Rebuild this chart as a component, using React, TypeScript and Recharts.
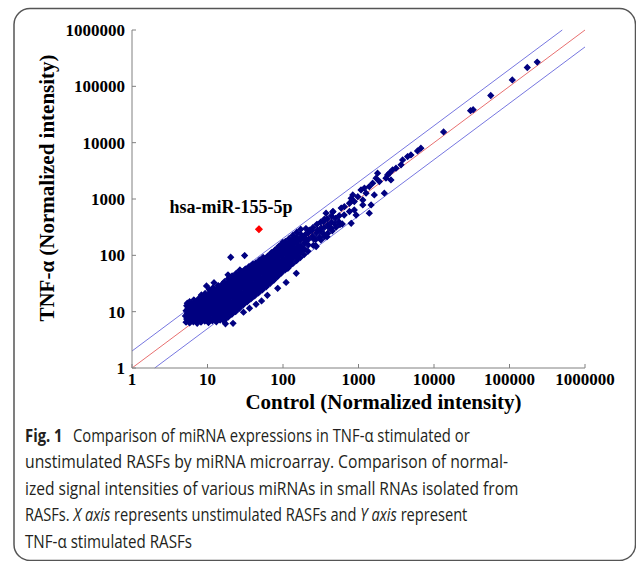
import React from 'react';
import { ScatterChart, Scatter, XAxis, YAxis, ReferenceLine, Label } from 'recharts';

// log axes, both from 1 to 1000000
const axisTicks = [1, 10, 100, 1000, 10000, 100000, 1000000];

// Control (x) vs TNF-a (y), normalized intensities
const lowCluster: [number, number][] = [
  [5.2, 6.5], [5.3, 7.4], [5.1, 8.4], [5.4, 9.3], [5.2, 10.4], [5.5, 11.6], [5.3, 12.8], [5.4, 14.1],
  [5.8, 6.3], [5.9, 7.1], [5.7, 8.0], [6.0, 8.9], [5.8, 9.9], [6.1, 11.0], [5.9, 12.2], [6.0, 13.6], [5.8, 15.0],
  [6.5, 6.6], [6.7, 7.5], [6.4, 8.4], [6.8, 9.4], [6.6, 10.5], [6.9, 11.7], [6.5, 13.0], [6.8, 14.5], [6.6, 16.2],
  [7.3, 6.2], [7.5, 7.0], [7.2, 7.9], [7.6, 8.8], [7.4, 9.8], [7.7, 11.0], [7.3, 12.3], [7.6, 13.7], [7.4, 15.3], [7.7, 17.2],
  [8.2, 6.5], [8.5, 7.3], [8.1, 8.2], [8.6, 9.2], [8.3, 10.3], [8.7, 11.5], [8.2, 12.9], [8.6, 14.4], [8.4, 16.1], [8.7, 18.0], [8.3, 19.8],
  [9.2, 6.8], [9.6, 7.6], [9.1, 8.6], [9.7, 9.6], [9.3, 10.8], [9.8, 12.1], [9.2, 13.5], [9.6, 15.1], [9.4, 16.9], [9.8, 18.9], [9.3, 21.0],
  [10.3, 6.4], [10.8, 7.2], [10.2, 8.1], [10.9, 9.1], [10.5, 10.2], [11.0, 11.4], [10.4, 12.8], [10.8, 14.3], [10.6, 16.0], [11.0, 17.9], [10.4, 20.0], [10.9, 22.4], [10.6, 24.6],
  [11.6, 6.9], [12.2, 7.8], [11.5, 8.7], [12.3, 9.8], [11.8, 11.0], [12.4, 12.3], [11.7, 13.8], [12.1, 15.5], [11.9, 17.3], [12.4, 19.4], [11.6, 21.7], [12.2, 24.3], [11.8, 26.5],
  [13.1, 6.6], [13.8, 7.5], [13.0, 8.5], [13.9, 9.5], [13.3, 10.7], [14.0, 12.0], [13.2, 13.4], [13.7, 15.0], [13.4, 16.8], [14.0, 18.8], [13.1, 21.1], [13.8, 23.6], [13.5, 26.4], [13.9, 29.0],
  [14.7, 7.1], [15.5, 8.0], [14.6, 9.0], [15.6, 10.1], [15.0, 11.3], [15.8, 12.7], [14.8, 14.2], [15.4, 15.9], [15.1, 17.8], [15.7, 19.9], [14.9, 22.3], [15.5, 25.0], [15.2, 28.0], [15.8, 31.0],
  [16.5, 6.8], [17.4, 7.7], [16.4, 8.7], [17.6, 9.8], [16.9, 11.0], [17.8, 12.3], [16.6, 13.8], [17.3, 15.5], [17.0, 17.4], [17.7, 19.5], [16.7, 21.8], [17.4, 24.4], [17.1, 27.3], [17.8, 30.6], [16.8, 34.0],
  [18.6, 7.9], [19.6, 8.9], [18.5, 10.0], [19.8, 11.2], [19.0, 12.6], [20.0, 14.1], [18.7, 15.8], [19.5, 17.7], [19.1, 19.8], [19.9, 22.2], [18.8, 24.9], [19.6, 27.9], [19.2, 31.2], [19.9, 35.0], [18.9, 38.5],
];

const midCluster: [number, number][] = [
  [21.0, 9.0], [22.2, 10.1], [21.2, 11.3], [22.4, 12.7], [21.6, 14.2], [22.5, 15.9], [21.1, 17.8], [22.0, 19.9], [21.5, 22.3], [22.3, 25.0], [21.3, 28.0], [22.1, 31.4], [21.7, 35.2], [22.4, 39.4], [21.2, 43.0],
  [23.6, 10.0], [24.9, 11.3], [23.8, 12.7], [25.1, 14.2], [24.2, 15.9], [25.2, 17.8], [23.7, 19.9], [24.6, 22.3], [24.1, 25.0], [25.0, 28.0], [23.9, 31.4], [24.8, 35.2], [24.3, 39.4], [25.2, 44.0], [24.0, 48.0],
  [26.5, 11.5], [27.9, 12.9], [26.7, 14.5], [28.2, 16.2], [27.1, 18.2], [28.3, 20.4], [26.6, 22.8], [27.6, 25.6], [27.0, 28.6], [28.1, 32.1], [26.8, 35.9], [27.8, 40.2], [27.3, 45.0], [28.2, 50.4], [26.9, 55.0],
  [29.8, 13.2], [31.3, 14.8], [30.0, 16.6], [31.6, 18.6], [30.4, 20.8], [31.8, 23.3], [29.9, 26.1], [31.0, 29.2], [30.3, 32.7], [31.5, 36.6], [30.1, 41.0], [31.2, 45.9], [30.6, 51.4], [31.7, 57.0],
  [33.4, 14.9], [35.1, 16.7], [33.6, 18.7], [35.4, 20.9], [34.1, 23.4], [35.6, 26.2], [33.5, 29.3], [34.8, 32.8], [34.0, 36.7], [35.3, 41.1], [33.8, 46.0], [35.0, 51.5], [34.3, 57.7], [35.5, 63.0],
  [37.5, 16.8], [39.4, 18.8], [37.7, 21.0], [39.7, 23.5], [38.3, 26.3], [40.0, 29.5], [37.6, 33.0], [39.1, 37.0], [38.2, 41.4], [39.6, 46.4], [37.9, 52.0], [39.3, 58.2], [38.5, 65.0], [39.9, 70.0],
  [42.1, 19.0], [44.3, 21.3], [42.4, 23.8], [44.6, 26.7], [43.0, 29.9], [45.0, 33.5], [42.3, 37.5], [44.0, 42.0], [42.9, 47.0], [44.5, 52.7], [42.6, 59.0], [44.2, 66.0], [43.4, 73.0],
  [47.3, 21.5], [49.7, 24.1], [47.6, 27.0], [50.1, 30.2], [48.3, 33.8], [50.5, 37.9], [47.5, 42.4], [49.4, 47.5], [48.2, 53.2], [50.0, 59.6], [47.8, 66.8], [49.6, 74.8], [48.6, 82.0],
  [53.2, 24.3], [55.9, 27.2], [53.5, 30.5], [56.3, 34.2], [54.3, 38.3], [56.7, 42.9], [53.4, 48.0], [55.5, 53.8], [54.1, 60.3], [56.2, 67.5], [53.7, 75.6], [55.7, 84.7], [54.6, 92.0],
];

const band: [number, number][] = [
  [59.8, 27.5], [62.8, 31.0], [60.2, 35.0], [63.3, 39.3], [61.1, 44.0], [63.7, 49.5], [60.0, 55.5], [62.4, 62.3], [60.8, 70.0], [63.1, 78.5], [60.4, 88.0], [62.7, 97.0],
  [67.2, 31.5], [70.5, 35.6], [67.6, 40.0], [71.0, 45.0], [68.6, 50.5], [71.5, 56.8], [67.4, 63.8], [70.1, 71.7], [68.3, 80.5], [70.9, 90.4], [67.8, 101], [70.4, 112],
  [75.4, 36.0], [79.2, 40.6], [75.9, 45.7], [79.8, 51.4], [77.0, 57.8], [80.3, 65.0], [75.7, 73.0], [78.7, 82.0], [76.7, 92.2], [79.6, 103.6], [76.1, 116], [79.0, 126],
  [84.7, 42.0], [88.9, 47.3], [85.2, 53.2], [89.6, 59.8], [86.5, 67.3], [90.2, 75.7], [85.0, 85.1], [88.4, 95.7], [86.1, 107.6], [89.4, 121], [85.5, 134], [88.7, 146],
  [95.1, 48.5], [99.8, 54.6], [95.7, 61.4], [100.6, 69.1], [97.1, 77.7], [101.2, 87.4], [95.4, 98.3], [99.3, 110.6], [96.7, 124.4], [100.3, 140], [96.0, 156], [99.6, 170],
  [106.8, 55.0], [112.1, 62.0], [107.5, 69.7], [113.0, 78.4], [109.0, 88.2], [113.6, 99.2], [107.2, 111.6], [111.5, 125.5], [108.6, 141.2], [112.6, 158.8], [107.8, 176],
  [119.9, 62.5], [125.8, 70.3], [120.7, 79.1], [126.9, 89.0], [122.4, 100.1], [127.6, 112.6], [120.4, 126.7], [125.2, 142.5], [121.9, 160.3], [126.4, 180.3], [121.1, 200],
  [134.6, 71.0], [135.5, 89.9], [142.4, 101.1], [137.4, 113.7], [143.2, 127.9], [135.2, 143.9], [140.6, 161.9], [136.9, 182.1], [142.0, 204.9], [136.0, 228],
  [151.1, 80.5], [152.1, 102], [159.9, 114.7], [154.3, 129], [160.8, 145.1], [151.8, 163.3], [157.8, 183.7], [153.7, 206.6], [152.7, 258],
  [169.6, 91.3], [170.8, 115.5], [179.5, 130], [173.2, 146.2], [170.4, 185], [177.2, 208.1], [172.6, 234.2], [171.5, 290],
  [190.4, 103.5], [191.7, 131], [194.4, 165.7], [202.6, 186.4], [191.3, 209.8], [198.9, 236], [200.9, 298.7],
  [214, 118], [216, 152], [219, 194], [215, 247], [223, 279],
  [252, 150], [256, 192], [246, 217], [241, 276], [250, 312],
  [270, 150], [273, 192], [277, 246], [285, 278], [281, 355],
  [318, 188], [307, 212], [311, 271], [320, 306], [316, 390],
  [357, 214], [345, 242], [349, 308], [343, 393], [354, 440],
  [383, 214], [406, 308], [392, 348], [385, 444],
  [450, 272], [434, 307], [440, 392], [436, 500],
  [506, 316], [488, 357], [494, 454],
  [568, 350], [548, 396], [556, 505],
  [610, 360], [646, 520],
  [372, 560], [455, 590],
];

const upperTail: [number, number][] = [
  [460, 600], [590, 690], [650, 730], [760, 600], [880, 640], [760, 840], [800, 1030], [880, 900],
  [930, 520], [800, 370], [840, 1180], [980, 1100], [1140, 960], [1140, 785], [1080, 1450], [1200, 1560],
  [1260, 1270], [1390, 1660], [1390, 560], [1470, 785], [1540, 1910], [1620, 1180], [1710, 2340], [1790, 2870],
  [1890, 2040], [2200, 1270], [2310, 2340], [2430, 2680], [2560, 2870], [2690, 2180], [2830, 3290], [3140, 3520],
  [3660, 4040], [3840, 4940], [4470, 5660], [4950, 6070], [6050, 7140], [6710, 7980],
];

const topPoints: [number, number][] = [
  [13400, 15500], [30500, 37000], [33000, 38500], [56500, 68700], [109000, 130000], [172000, 216000], [233000, 269000],
];

const outliers: [number, number][] = [
  [20.3, 92.5], [31, 99], [18.7, 45], [9.7, 28.6], [12.2, 32.7], [21.8, 6.2], [17.3, 6.1],
  [30, 9.8], [36, 11.5], [44, 13.5], [52, 15.5], [62, 19.5], [85, 26], [110, 33], [150, 48],
  [116, 59], [157, 89], [275, 143], [392, 247],
];

const highlighted = [{ x: 48, y: 291, name: 'hsa-miR-155-5p' }];

// y = x and the two-fold lines
const equalLine = [{ x: 1, y: 1 }, { x: 1000000, y: 1000000 }];
const foldUpLine = [{ x: 1, y: 2 }, { x: 500000, y: 1000000 }];
const foldDownLine = [{ x: 2, y: 1 }, { x: 1000000, y: 500000 }];

const navyData = [...lowCluster, ...midCluster, ...band, ...upperTail, ...topPoints, ...outliers].map(([x, y]) => ({ x, y }));

const serif = "'Liberation Serif', 'Times New Roman', serif";

const NavyDiamond = (props: any) => {
  const { cx, cy } = props;
  const r = 2.8;
  return (
    <path
      d={`M${cx},${cy - r}L${cx + r},${cy}L${cx},${cy + r}L${cx - r},${cy}Z`}
      fill="#000080"
      stroke="#000080"
      strokeWidth={1.2}
    />
  );
};

const RedPoint = (props: any) => {
  const { cx, cy, payload } = props;
  const r = 3.2;
  return (
    <g>
      <path
        d={`M${cx},${cy - r}L${cx + r},${cy}L${cx},${cy + r}L${cx - r},${cy}Z`}
        fill="#ff0000"
        stroke="#ff0000"
        strokeWidth={1.2}
      />
      <text x={cx - 28} y={cy - 16} textAnchor="middle" fontFamily={serif} fontWeight="bold" fontSize={18} fill="#000">
        {payload.name}
      </text>
    </g>
  );
};

const XTick = ({ x, y, payload }: any) => (
  <g>
    <line x1={x} y1={y} x2={x} y2={y - 4} stroke="#808080" />
    <text x={x} y={y + 17} textAnchor="middle" fontFamily={serif} fontWeight="bold" fontSize={17} fill="#000">
      {payload.value}
    </text>
  </g>
);

const YTick = ({ x, y, payload }: any) => (
  <g>
    <line x1={x} y1={y} x2={x + 4} y2={y} stroke="#808080" />
    <text x={x - 7} y={y + 6} textAnchor="end" fontFamily={serif} fontWeight="bold" fontSize={17} fill="#000">
      {payload.value}
    </text>
  </g>
);

const captionStyle = { fontFamily: "'Open Sans', sans-serif", fontSize: 17.3, fill: '#231f20' };

// plain caption line squeezed to its width in the figure
const Line1 = ({ y, w, children }: any) => (
  <text x={25} y={y} textLength={w} lengthAdjust="spacingAndGlyphs" style={captionStyle}>
    {children}
  </text>
);

export default function App() {
  return (
    <div style={{ position: 'absolute', left: 0, top: 0, width: 636, height: 561, background: '#fff', overflow: 'hidden' }}>
      <svg width={636} height={561} style={{ position: 'absolute', left: 0, top: 0 }}>
        <rect x={14} y={8.5} width={621.5} height={552} rx={16} fill="none" stroke="#555" strokeWidth={1.5} />
        <g transform="translate(25,441.5) scale(0.857,1)">
          <text x={0} y={0} style={captionStyle}>
            <tspan fontWeight="bold">Fig. 1</tspan>
            <tspan dx={12}>Comparison of miRNA expressions in TNF-α stimulated or</tspan>
          </text>
        </g>
        <Line1 y={468} w={483}>unstimulated RASFs by miRNA microarray. Comparison of normal-</Line1>
        <Line1 y={494.5} w={493.5}>ized signal intensities of various miRNAs in small RNAs isolated from</Line1>
        <g transform="translate(25,521) scale(0.846,1)">
          <text x={0} y={0} style={captionStyle}>
            {'RASFs. '}
            <tspan fontStyle="italic">X axis</tspan>
            {' represents unstimulated RASFs and '}
            <tspan fontStyle="italic">Y axis</tspan>
            {' represent'}
          </text>
        </g>
        <Line1 y={547.5} w={167}>TNF-α stimulated RASFs</Line1>
      </svg>
      <div style={{ position: 'absolute', left: 0, top: 0 }}>
        <ScatterChart width={636} height={420} margin={{ top: 30, right: 51, bottom: 22, left: 62 }}>
          <XAxis
            type="number"
            dataKey="x"
            scale="log"
            domain={[1, 1000000]}
            ticks={axisTicks}
            allowDataOverflow
            height={30}
            stroke="#808080"
            tickLine={false}
            tickSize={0}
            tickMargin={0}
            tick={<XTick />}
          >
            <Label
              value="Control (Normalized intensity)"
              position="bottom"
              offset={-4}
              dx={25}
              style={{ fontFamily: serif, fontWeight: 'bold', fontSize: 21, fill: '#000' }}
            />
          </XAxis>
          <YAxis
            type="number"
            dataKey="y"
            scale="log"
            domain={[1, 1000000]}
            ticks={axisTicks}
            allowDataOverflow
            width={70}
            stroke="#808080"
            tickLine={false}
            tickSize={0}
            tickMargin={0}
            tick={<YTick />}
          >
            <Label
              value="TNF-α (Normalized intensity)"
              angle={-90}
              position="center"
              dx={-50}
              dy={-11}
              style={{ fontFamily: serif, fontWeight: 'bold', fontSize: 21, fill: '#000', textAnchor: 'middle' }}
            />
          </YAxis>
          <ReferenceLine segment={foldUpLine} stroke="#7777e0" strokeWidth={1} ifOverflow="visible" />
          <ReferenceLine segment={equalLine} stroke="#e87070" strokeWidth={1} ifOverflow="visible" />
          <ReferenceLine segment={foldDownLine} stroke="#7777e0" strokeWidth={1} ifOverflow="visible" />
          <Scatter data={navyData} shape={<NavyDiamond />} isAnimationActive={false} />
          <Scatter data={highlighted} shape={<RedPoint />} isAnimationActive={false} />
        </ScatterChart>
      </div>
    </div>
  );
}
